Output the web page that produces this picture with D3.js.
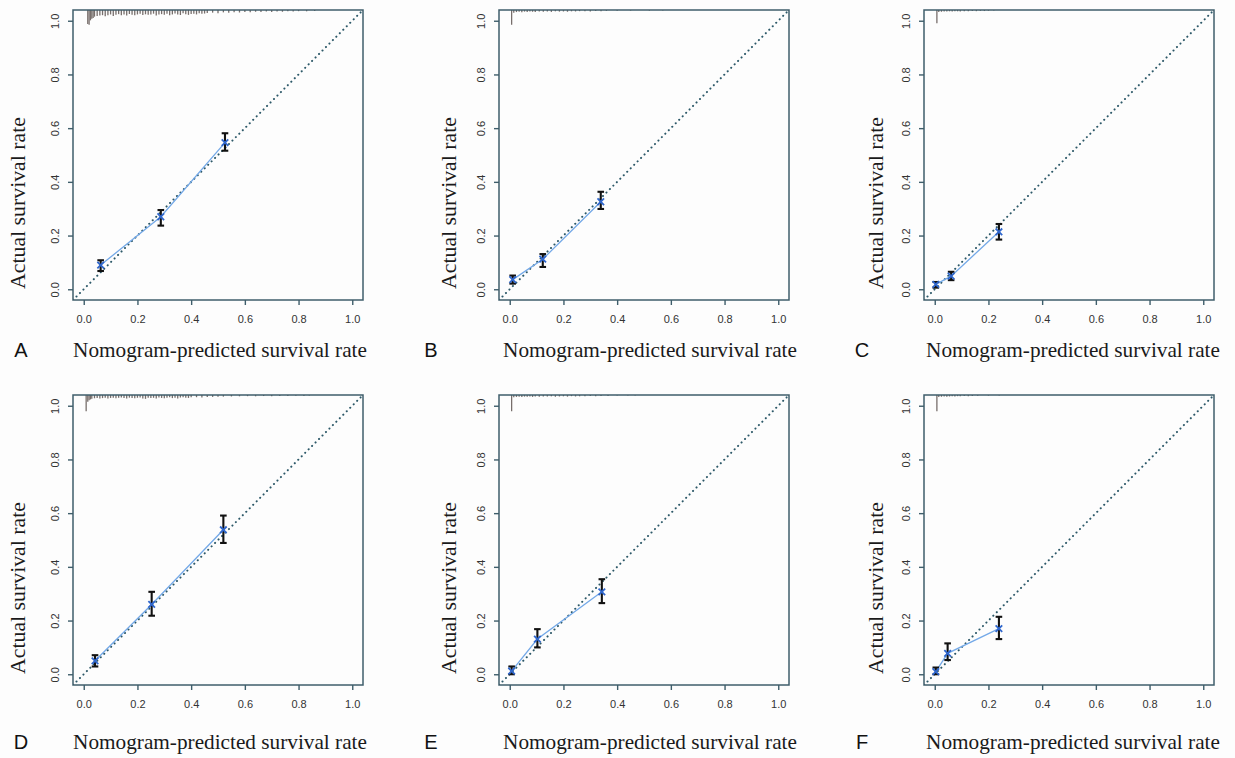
<!DOCTYPE html>
<html><head><meta charset="utf-8">
<script src="https://cdn.jsdelivr.net/npm/d3@7"></script>
<style>body{margin:0;background:#fff;} svg{display:block;}</style>
</head><body><svg id="c" width="1235" height="758"></svg>
<script>
// ---------- DATA ----------
const panelLabels = ["A","B","C","D","E","F"];
const tickValues = [0.0, 0.2, 0.4, 0.6, 0.8, 1.0];
const xTitle = "Nomogram-predicted survival rate";
const yTitle = "Actual survival rate";

// calibration points: predicted, observed, lower CI, upper CI
const predA = [0.063, 0.287, 0.526], obsA = [0.090, 0.270, 0.546], loA = [0.068, 0.237, 0.516], hiA = [0.108, 0.295, 0.581];
const predB = [0.011, 0.123, 0.339], obsB = [0.036, 0.112, 0.326], loB = [0.021, 0.083, 0.299], hiB = [0.051, 0.131, 0.363];
const predC = [0.004, 0.061, 0.239], obsC = [0.018, 0.049, 0.214], loC = [0.006, 0.034, 0.185], hiC = [0.027, 0.065, 0.243];
const predD = [0.042, 0.253, 0.520], obsD = [0.050, 0.260, 0.538], loD = [0.029, 0.218, 0.489], hiD = [0.071, 0.307, 0.591];
const predE = [0.007, 0.103, 0.343], obsE = [0.012, 0.131, 0.307], loE = [0.000, 0.100, 0.265], hiE = [0.029, 0.168, 0.354];
const predF = [0.004, 0.048, 0.239], obsF = [0.010, 0.078, 0.170], loF = [0.000, 0.053, 0.131], hiF = [0.025, 0.115, 0.214];

// spike histogram of predicted values (top rug): position, relative frequency
const rugAx = [0.015,0.02,0.025,0.03,0.035,0.04,0.05,0.06,0.07,0.08,0.09,0.10,0.11,0.12,0.13,0.14,0.15,0.16,0.17,0.18,0.19,0.20,0.21,0.22,0.23,0.24,0.25,0.26,0.27,0.28,0.29,0.30,0.31,0.32,0.33,0.34,0.35,0.36,0.37,0.38,0.39,0.40,0.41,0.42,0.43,0.44,0.45,0.46,0.48,0.50,0.52,0.54,0.56,0.58,0.60,0.62,0.64,0.66,0.68,0.70,0.72,0.74,0.76,0.78,0.80,0.83,0.86];
const rugAn = [95,100,70,60,55,45,40,38,35,42,36,30,40,33,28,35,30,38,27,32,36,30,26,34,29,33,31,25,37,30,28,33,26,35,30,24,31,34,22,29,33,27,25,30,22,26,24,20,18,22,16,19,15,17,14,16,12,14,11,13,10,12,9,11,8,9,6];
const rugBx = [0.007,0.015,0.025,0.035,0.045,0.055,0.065,0.075,0.085,0.095,0.11,0.125,0.14,0.155,0.17,0.185,0.20,0.215,0.23,0.245,0.26,0.28,0.30,0.32,0.34,0.36,0.40,0.45,0.52,0.57];
const rugBn = [100,18,14,12,15,11,13,10,12,14,11,12,10,13,9,11,10,12,9,10,8,9,10,7,8,6,5,4,4,3];
const rugCx = [0.008,0.015,0.025,0.035,0.045,0.055,0.065,0.075,0.085,0.095,0.11,0.125,0.14,0.155,0.17,0.185,0.20,0.22];
const rugCn = [90,14,12,10,11,9,10,8,9,10,8,9,7,8,6,7,5,4];
const rugDx = [0.009,0.015,0.02,0.025,0.03,0.04,0.05,0.06,0.07,0.08,0.09,0.10,0.11,0.12,0.13,0.14,0.15,0.16,0.17,0.18,0.19,0.20,0.21,0.22,0.23,0.24,0.25,0.26,0.27,0.28,0.29,0.30,0.31,0.32,0.33,0.34,0.35,0.36,0.37,0.38,0.39,0.40,0.42,0.44,0.46,0.48,0.50,0.52,0.55,0.58,0.61,0.64,0.67,0.70,0.73,0.76,0.79,0.82,0.84];
const rugDn = [110,45,35,30,25,22,20,24,21,19,23,20,18,22,19,17,21,24,18,20,22,19,17,23,26,18,21,19,24,17,20,22,18,16,21,19,23,17,15,18,20,16,15,17,14,13,12,11,10,9,8,9,7,8,6,7,5,6,4];
const rugEx = [0.007,0.015,0.025,0.035,0.045,0.055,0.065,0.075,0.085,0.095,0.11,0.125,0.14,0.155,0.17,0.185,0.20,0.215,0.23,0.245,0.26,0.28,0.30,0.32,0.34,0.366,0.40,0.44,0.467];
const rugEn = [110,16,13,12,14,11,12,10,13,11,12,10,11,9,12,10,9,11,8,10,9,8,7,8,6,6,4,4,3];
const rugFx = [0.008,0.015,0.025,0.035,0.045,0.055,0.065,0.075,0.085,0.095,0.11,0.125,0.14,0.16,0.20,0.24];
const rugFn = [110,14,12,11,12,10,9,10,8,9,7,8,6,5,4,3];

// ---------- BUILD ----------
const panels = [
  {label:"A", pred:predA, obs:obsA, lo:loA, hi:hiA, rx:rugAx, rn:rugAn},
  {label:"B", pred:predB, obs:obsB, lo:loB, hi:hiB, rx:rugBx, rn:rugBn},
  {label:"C", pred:predC, obs:obsC, lo:loC, hi:hiC, rx:rugCx, rn:rugCn},
  {label:"D", pred:predD, obs:obsD, lo:loD, hi:hiD, rx:rugDx, rn:rugDn},
  {label:"E", pred:predE, obs:obsE, lo:loE, hi:hiE, rx:rugEx, rn:rugEn},
  {label:"F", pred:predF, obs:obsF, lo:loF, hi:hiF, rx:rugFx, rn:rugFn}
];

const svg = d3.select("#c");
svg.append("rect").attr("width",1235).attr("height",758).attr("fill","#fdfdfd");

const colLeft = [73, 499, 924];
const rowTop = [10, 395];
const W = 290, H = 290;
const yTitleOff = [-55, -50, -48];
const xTitleOff = [147, 151, 149];
const letterX = [21, 431, 862];
const rowTitleY = [350, 742];

const axisCol = "#3f5e6b";
const fmt = d3.format(".1f");

panels.forEach((p, i) => {
  const col = i % 3, row = Math.floor(i / 3);
  const L = colLeft[col], T = rowTop[row];
  const g = svg.append("g").attr("transform", `translate(${L},${T})`);
  const x = d3.scaleLinear().domain([-0.04, 1.04]).range([0, W]);
  const y = d3.scaleLinear().domain([-0.04, 1.04]).range([H, 0]);
  const rugLen = d3.scaleLinear().domain([0, 100]).range([0, 0.055]);

  const cid = "clip" + i;
  g.append("clipPath").attr("id", cid).append("rect").attr("width", W).attr("height", H);

  const xa = g.append("g").attr("transform", `translate(0,${H})`)
    .call(d3.axisBottom(x).tickValues(tickValues).tickFormat(fmt).tickSize(5).tickPadding(9));
  const ya = g.append("g")
    .call(d3.axisLeft(y).tickValues(tickValues).tickFormat(fmt).tickSize(5).tickPadding(0));
  [xa, ya].forEach(a => {
    a.select(".domain").remove();
    a.selectAll("line").attr("stroke", axisCol).attr("stroke-width", 1.4);
    a.selectAll("text").attr("font-family", "'Liberation Sans', Arial, sans-serif")
      .attr("font-size", "11px").attr("fill", "#333");
  });
  ya.selectAll("text")
    .attr("x", null).attr("dy", null)
    .attr("text-anchor", "middle")
    .attr("transform", "translate(-18,0) rotate(-90)")
    .attr("dominant-baseline", "central");
  xa.selectAll("text").attr("dy", null).attr("y", 19).attr("dominant-baseline", "central");

  const rug = p.rx.map((v, k) => ({x: v, n: p.rn[k]}));
  g.append("g").attr("clip-path", `url(#${cid})`).selectAll("line").data(rug).join("line")
    .attr("x1", d => x(d.x)).attr("x2", d => x(d.x))
    .attr("y1", y(1.04)).attr("y2", d => y(1.04 - rugLen(d.n)))
    .attr("stroke", "#776e6b").attr("stroke-width", 1.3);

  g.append("line").attr("clip-path", `url(#${cid})`)
    .attr("x1", x(-0.04)).attr("y1", y(-0.04)).attr("x2", x(1.04)).attr("y2", y(1.04))
    .attr("stroke", "#2c5868").attr("stroke-width", 2)
    .attr("stroke-dasharray", "0.1 4.8").attr("stroke-linecap", "round");

  const pts = p.pred.map((v, k) => ({x: v, y: p.obs[k], lo: p.lo[k], hi: p.hi[k]}));

  g.append("path").datum(pts)
    .attr("d", d3.line().x(d => x(d.x)).y(d => y(d.y)))
    .attr("fill", "none").attr("stroke", "#74a9e8").attr("stroke-width", 1.3);

  const eb = g.append("g").attr("stroke", "#111").attr("stroke-width", 2.1);
  pts.forEach(d => {
    eb.append("line").attr("x1", x(d.x)).attr("x2", x(d.x)).attr("y1", y(d.lo)).attr("y2", y(d.hi));
    eb.append("line").attr("x1", x(d.x) - 3.3).attr("x2", x(d.x) + 3.3).attr("y1", y(d.lo)).attr("y2", y(d.lo));
    eb.append("line").attr("x1", x(d.x) - 3.3).attr("x2", x(d.x) + 3.3).attr("y1", y(d.hi)).attr("y2", y(d.hi));
  });

  g.selectAll("path.pt").data(pts).join("path").attr("class", "pt")
    .attr("transform", d => `translate(${x(d.x)},${y(d.y)})`)
    .attr("d", d3.symbol(d3.symbolX, 30))
    .attr("fill", "none").attr("stroke", "#2f66cc").attr("stroke-width", 1.8);

  g.append("rect").attr("width", W).attr("height", H)
    .attr("fill", "none").attr("stroke", axisCol).attr("stroke-width", 1.5);

  const xt = svg.append("text").text(xTitle)
    .attr("x", L + xTitleOff[col]).attr("y", rowTitleY[row])
    .attr("text-anchor", "middle").attr("dominant-baseline", "central")
    .attr("font-family", "'Liberation Serif', 'Times New Roman', serif")
    .attr("font-size", "20px").attr("fill", "#1a1a1a");
  const xl = xt.node().getComputedTextLength();
  xt.attr("font-size", (20 * 294 / xl) + "px");

  const cy = T + 193;
  const yt = svg.append("text").text(yTitle)
    .attr("transform", `translate(${L + yTitleOff[col]},${cy}) rotate(-90)`)
    .attr("text-anchor", "middle").attr("dominant-baseline", "central")
    .attr("font-family", "'Liberation Serif', 'Times New Roman', serif")
    .attr("font-size", "20px").attr("fill", "#1a1a1a");
  const yl = yt.node().getComputedTextLength();
  yt.attr("font-size", (20 * 172 / yl) + "px");

  svg.append("text").text(p.label)
    .attr("x", letterX[col]).attr("y", rowTitleY[row])
    .attr("text-anchor", "middle").attr("dominant-baseline", "central")
    .attr("font-family", "'Liberation Sans', Arial, sans-serif")
    .attr("font-size", "20px").attr("fill", "#111");
});
</script></body></html>
